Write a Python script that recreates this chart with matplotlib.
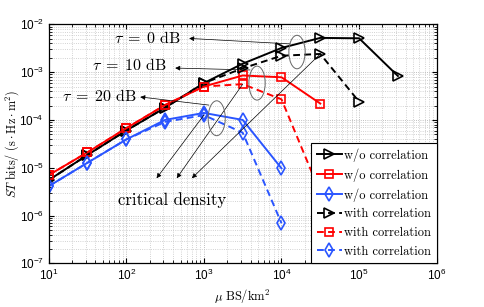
import numpy as np
import matplotlib
matplotlib.use("Agg")
import matplotlib.pyplot as plt
from matplotlib.patches import Ellipse

plt.rcParams['mathtext.fontset'] = 'custom'
plt.rcParams['mathtext.rm'] = 'Liberation Sans'
plt.rcParams['mathtext.it'] = 'Liberation Sans:italic'
plt.rcParams['font.family'] = ['Liberation Sans', 'DejaVu Sans']

# ---- data ----
density = [1e1, 3.162e1, 1e2, 3.162e2, 1e3, 3.162e3, 1e4, 3.162e4, 1e5, 3.162e5]

black_wo = [5.5e-6, 1.85e-5, 6.0e-5, 1.8e-4, 5.9e-4, 1.5e-3, 3.2e-3, 5.2e-3, 5.1e-3, 8.3e-4]
black_w = [5.5e-6, 1.85e-5, 6.0e-5, 1.8e-4, 5.9e-4, 1.2e-3, 2.2e-3, 2.4e-3, 2.4e-4]
red_wo = [7.0e-6, 2.1e-5, 6.7e-5, 2.05e-4, 5.0e-4, 8.5e-4, 7.8e-4, 2.2e-4]
red_w = [7.0e-6, 2.1e-5, 6.7e-5, 2.05e-4, 5.0e-4, 5.6e-4, 2.7e-4, 3.0e-6]
blue_wo = [4.1e-6, 1.27e-5, 3.9e-5, 1.0e-4, 1.4e-4, 1.0e-4, 9.7e-6]
blue_w = [4.1e-6, 1.27e-5, 3.9e-5, 9.1e-5, 1.26e-4, 5.4e-5, 6.9e-7]

label_wo = "w/o correlation"
label_w = "with correlation"
tau_labels = [r"$\tau\;=\;0\ \mathrm{dB}$", r"$\tau\;=\;10\ \mathrm{dB}$",
              r"$\tau\;=\;20\ \mathrm{dB}$"]

BLACK = '#000000'
RED = '#ff0000'
BLUE = '#2a55ff'

fig = plt.figure(figsize=(4.85, 3.07), dpi=100)
ax = fig.add_axes([0.1004, 0.1423, 0.8000, 0.7785])

dash = (0, (3.5, 2.2))
series = [
    (black_wo, BLACK, '>', 7, '-', label_wo),
    (red_wo, RED, 's', 5.5, '-', label_wo),
    (blue_wo, BLUE, 'd', 7, '-', label_wo),
    (black_w, BLACK, '>', 7, dash, label_w),
    (red_w, RED, 's', 5.5, dash, label_w),
    (blue_w, BLUE, 'd', 7, dash, label_w),
]
for vals, col, mk, ms, ls, lab in series:
    ax.plot(density[:len(vals)], vals, color=col, linestyle=ls, linewidth=1.4,
            marker=mk, markersize=ms, markerfacecolor='none',
            markeredgecolor=col, markeredgewidth=1.2, label=lab)

ax.set_xscale('log')
ax.set_yscale('log')
ax.set_xlim(1e1, 1e6)
ax.set_ylim(1e-7, 1e-2)

ax.grid(True, which='major', linestyle=':', linewidth=0.6, color='#aaaaaa')
ax.grid(True, which='minor', linestyle=':', linewidth=0.6, color='#c4c4c4')
ax.set_axisbelow(True)
ax.tick_params(which='both', direction='in', top=True, right=True, labelsize=8.5)
ax.tick_params(which='major', length=3.5)
ax.tick_params(which='minor', length=2)
for s in ax.spines.values():
    s.set_linewidth(0.9)

ax.set_xlabel(r"$\mu\ \mathrm{BS/km}^2$", fontsize=9, math_fontfamily='cm', labelpad=3)
ax.set_ylabel(r"$ST\ \mathrm{bits/}\ (\mathrm{s}\cdot\mathrm{Hz}\cdot\mathrm{m}^2)$",
              fontsize=8.8, math_fontfamily='cm', labelpad=0)
ax.yaxis.set_label_coords(-0.072, 0.5)

# ellipses (axes fractions)
for (cx, cy, w, h) in [(0.640, 0.884, 0.042, 0.140), (0.537, 0.754, 0.042, 0.142),
                       (0.433, 0.607, 0.044, 0.146)]:
    ax.add_patch(Ellipse((cx, cy), w, h, transform=ax.transAxes, fill=False,
                         edgecolor='#666666', linewidth=0.7, zorder=5))

arrowprops = dict(arrowstyle='-|>', color='black', lw=0.5, mutation_scale=7,
                  shrinkA=0, shrinkB=0)

# tau labels with arrows
tau_text_pos = [(0.339, 0.942), (0.305, 0.828), (0.228, 0.700)]
tau_heads = [(0.362, 0.941), (0.326, 0.817), (0.236, 0.696)]
tau_tails = [(0.622, 0.918), (0.519, 0.809), (0.413, 0.662)]
for lab, tp, hd, tl in zip(tau_labels, tau_text_pos, tau_heads, tau_tails):
    ax.text(tp[0], tp[1], lab, transform=ax.transAxes, ha='right', va='center',
            fontsize=11.5, math_fontfamily='cm')
    ax.annotate('', xy=hd, xycoords='axes fraction', xytext=tl,
                textcoords='axes fraction', arrowprops=arrowprops)

# critical density arrows from peaks of the with-correlation curves
crit_heads = [(0.278, 0.356), (0.330, 0.356), (0.369, 0.356)]
for vals, hd in zip([blue_w, red_w, black_w], crit_heads):
    i = int(np.argmax(vals))
    ax.annotate('', xy=hd, xycoords='axes fraction', xytext=(density[i], vals[i]),
                textcoords='data', arrowprops=arrowprops)
ax.text(0.317, 0.265, "critical density", transform=ax.transAxes, ha='center',
        va='center', fontsize=12, family='cmr10')

leg = ax.legend(loc='lower right', borderaxespad=0, prop={'family': 'cmr10', 'size': 9},
                fancybox=False, framealpha=1, edgecolor='black', handlelength=2.0,
                handletextpad=0.2, labelspacing=0.52, borderpad=0.45)
leg.get_frame().set_linewidth(0.8)

fig.savefig('out.png', dpi=100)
